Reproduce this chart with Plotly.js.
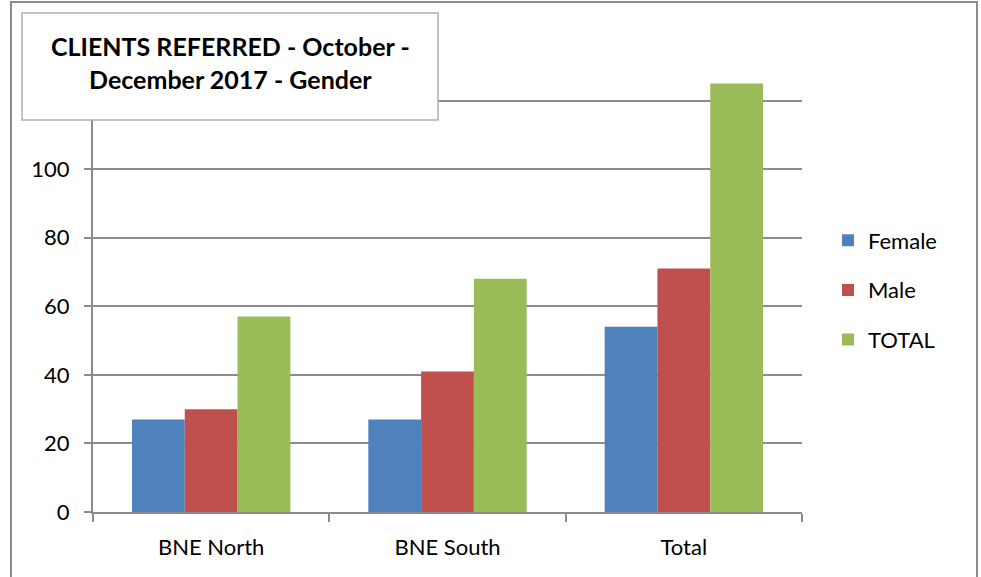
<!DOCTYPE html>
<html>
<head>
<meta charset="utf-8">
<script src="https://cdn.plot.ly/plotly-3.0.1.min.js"></script>
<style>html,body{margin:0;padding:0;background:#fff;}#chart{width:981px;height:577px;}</style>
</head>
<body>
<div id="chart"></div>
<script>
const categories = ["BNE North", "BNE South", "Total"];
const seriesNames = ["Female", "Male", "TOTAL"];
const female = [27, 27, 54];
const male = [30, 41, 71];
const total = [57, 68, 125];
const yTicks = [0, 20, 40, 60, 80, 100, 120, 140];
// 120 and 140 are hidden behind the title box in the reference
const yTickLabels = ["0", "20", "40", "60", "80", "100", "", ""];
const titleText = "CLIENTS REFERRED - October -<br>December 2017 - Gender";

const colors = ["#4F81BD", "#C0504D", "#9BBB59"];
const values = [female, male, total];
const font = "Lato, 'Liberation Sans', sans-serif";

const traces = seriesNames.map((name, i) => ({
  type: "bar",
  name: name,
  x: categories,
  y: values[i],
  marker: {color: colors[i], line: {width: 0}},
  legendgroup: name,
  hoverinfo: "x+y+name"
}));

const L = 93, R = 802, T = 32, B = 512;
const W = R - L, H = B - T;
const px = x => (x - L) / W;
const py = y => (B - y) / H;

const layout = {
  width: 981, height: 577,
  margin: {l: L, r: 981 - R, t: T, b: 577 - B, pad: 0},
  paper_bgcolor: "#ffffff",
  plot_bgcolor: "#ffffff",
  font: {family: font, size: 22, color: "#000"},
  barmode: "group",
  bargap: 0.33,
  bargroupgap: 0,
  showlegend: true,
  legend: {
    x: px(828), xanchor: "left",
    y: py(290), yanchor: "middle",
    font: {family: font, size: 22, color: "#000"},
    tracegroupgap: 18,
    bgcolor: "rgba(0,0,0,0)",
    itemclick: false
  },
  xaxis: {
    type: "category",
    showgrid: false,
    showline: true, linecolor: "#8c8c8c", linewidth: 2,
    ticks: "outside", tickson: "boundaries", ticklen: 8, tickcolor: "#8c8c8c", tickwidth: 2,
    ticklabelstandoff: 15,
    tickfont: {family: font, size: 22, color: "#000"},
    zeroline: false,
    fixedrange: true
  },
  yaxis: {
    range: [0, 140],
    tickmode: "array",
    tickvals: yTicks,
    ticktext: yTickLabels,
    showgrid: true, gridcolor: "#8c8c8c", gridwidth: 2,
    showline: true, linecolor: "#8c8c8c", linewidth: 2,
    ticks: "outside", ticklen: 7, tickcolor: "#8c8c8c", tickwidth: 2,
    ticklabelstandoff: 10,
    tickfont: {family: font, size: 22, color: "#000"},
    zeroline: false,
    fixedrange: true
  },
  shapes: [
    {type: "rect", xref: "paper", yref: "paper", layer: "above",
     x0: px(11), x1: px(977), y0: py(600), y1: py(2),
     line: {color: "#8c8c8c", width: 2}, fillcolor: "rgba(0,0,0,0)"},
    {type: "rect", xref: "paper", yref: "paper", layer: "above",
     x0: px(22), x1: px(438), y0: py(120), y1: py(13),
     line: {color: "#b0b0b0", width: 1.5}, fillcolor: "#ffffff"}
  ],
  annotations: [
    {xref: "paper", yref: "paper", x: px(230), y: py(62), xanchor: "center", yanchor: "middle",
     text: "<b>" + titleText + "</b>", showarrow: false, align: "center",
     font: {family: font, size: 25, color: "#000"}}
  ]
};

Plotly.newPlot("chart", traces, layout, {displayModeBar: false, staticPlot: true});
</script>
</body>
</html>
